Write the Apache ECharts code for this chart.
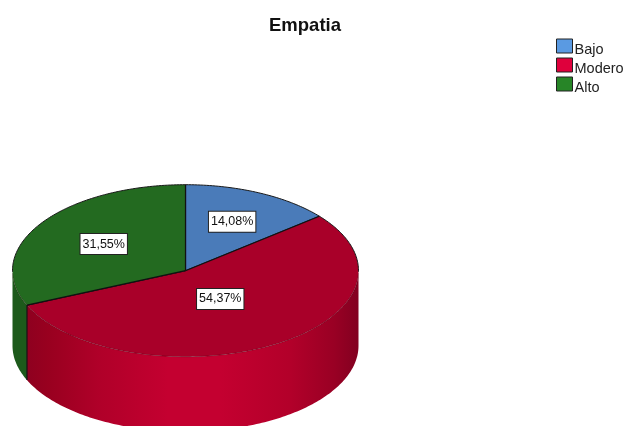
<!DOCTYPE html>
<html>
<head>
<meta charset="utf-8">
<style>html,body{margin:0;padding:0;background:#fff}#c{width:625px;height:426px}</style>
<script src="https://cdn.jsdelivr.net/npm/echarts@6/dist/echarts.min.js"></script>
</head>
<body>
<div id="c"></div>
<script>
const categories = ['Bajo', 'Modero', 'Alto'];
const percentages = [14.08, 54.37, 31.55];
const titleText = 'Empatia';

const topColors = ['#4a7bb9', '#a90029', '#236a20'];
const legendColors = ['#5a9ae2', '#df003c', '#278527'];
const greenWall = [{offset:0,color:'#1d5a1b'},{offset:1,color:'#1d5a1b'}];
const redWall = [
  {offset:0,color:'#870020'},{offset:0.1,color:'#98001f'},{offset:0.25,color:'#b00029'},
  {offset:0.45,color:'#c40030'},{offset:0.6,color:'#c40030'},{offset:0.8,color:'#b3002a'},
  {offset:0.93,color:'#990024'},{offset:1,color:'#820020'}
];
const sideStops = [greenWall, redWall, greenWall];
const labelReach = [0.63, 0.385, 0.565];

const cx = 185.5, cy = 270.7, rx = 173, ry = 86, depth = 75;
const total = percentages.reduce((a, b) => a + b, 0);
const pt = (deg, dy) => {
  const r = deg * Math.PI / 180;
  return [cx + rx * Math.sin(r), cy - ry * Math.cos(r) + (dy || 0)];
};
const arc = (a0, a1, dy) => {
  const out = [];
  const n = Math.max(2, Math.ceil(Math.abs(a1 - a0)));
  for (let i = 0; i <= n; i++) out.push(pt(a0 + (a1 - a0) * i / n, dy));
  return out;
};

function renderSlice(index) {
  let before = 0;
  for (let i = 0; i < index; i++) before += percentages[i];
  const a0 = before / total * 360;
  const a1 = (before + percentages[index]) / total * 360;
  const mid = (a0 + a1) / 2;
  const children = [];

  // side wall: only the front half of the ellipse shows
  const f0 = Math.max(a0, 90), f1 = Math.min(a1, 270);
  if (f1 > f0) {
    const upper = arc(f0, f1, 0);
    const lower = arc(f1, f0, depth);
    children.push({
      type: 'polygon',
      shape: { points: upper.concat(lower) },
      style: {
        fill: new echarts.graphic.LinearGradient(cx - rx, 0, cx + rx, 0, sideStops[index], true),
        stroke: null
      }
    });
    if (f0 === a0) {
      children.push({ type: 'line', shape: { x1: pt(a0)[0], y1: pt(a0)[1], x2: pt(a0)[0], y2: pt(a0, depth)[1] },
        style: { stroke: '#111', lineWidth: 1.2 } });
    }
  }

  // top face
  const rim = arc(a0, a1, 0);
  children.push({
    type: 'polygon',
    shape: { points: [[cx, cy]].concat(rim) },
    style: { fill: topColors[index], stroke: null }
  });
  // rim outline: dark along the back, faint along the front
  const backA = [], frontA = [];
  rim.forEach(p => { (p[1] <= cy + 1 ? backA : frontA).push(p); });
  if (backA.length > 1) children.push({ type: 'polyline', shape: { points: backA }, style: { stroke: '#1a1a1a', lineWidth: 1, fill: null } });
  if (frontA.length > 1) children.push({ type: 'polyline', shape: { points: frontA }, style: { stroke: 'rgba(40,0,10,0.3)', lineWidth: 1, fill: null } });
  // spoke at the start and end
  [a0, a1].forEach(a => {
    const p = pt(a);
    children.push({ type: 'line', shape: { x1: cx, y1: cy, x2: p[0], y2: p[1] }, style: { stroke: '#111', lineWidth: 1.2 } });
  });

  // value label
  const k = labelReach[index];
  const r = mid * Math.PI / 180;
  children.push({
    type: 'text',
    z2: 100,
    style: {
      x: cx + k * rx * Math.sin(r),
      y: cy - k * ry * Math.cos(r),
      text: percentages[index].toFixed(2).replace('.', ',') + '%',
      fontFamily: 'Liberation Sans, Arial, sans-serif',
      fontSize: 12.5,
      fill: '#111',
      align: 'center',
      verticalAlign: 'middle',
      backgroundColor: '#fff',
      borderColor: '#222',
      borderWidth: 1,
      padding: [4, 2, 3, 2]
    }
  });
  return { type: 'group', children };
}

const chart = echarts.init(document.getElementById('c'), null, { renderer: 'canvas' });
chart.setOption({
  animation: false,
  backgroundColor: '#fff',
  title: {
    text: titleText,
    left: 305,
    top: 16,
    padding: 0,
    textAlign: 'center',
    textStyle: { fontFamily: 'Liberation Sans, Arial, sans-serif', fontSize: 18.5, fontWeight: 'bold', color: '#111' }
  },
  legend: {
    orient: 'vertical',
    left: 556,
    top: 35,
    padding: 0,
    itemWidth: 16,
    itemHeight: 14,
    itemGap: -3,
    icon: 'rect',
    selectedMode: false,
    formatter: name => '{t|' + name + '}',
    textStyle: {
      fontFamily: 'Liberation Sans, Arial, sans-serif', fontSize: 14.5, color: '#222',
      padding: [0, 0, 0, -3],
      rich: {
        t: {
          fontFamily: 'Liberation Sans, Arial, sans-serif', fontSize: 14.5, color: '#222',
          padding: [7, 0, 0, 0], lineHeight: 17
        }
      }
    },
    data: categories.map((name, i) => ({
      name,
      itemStyle: { color: legendColors[i], borderColor: '#222', borderWidth: 1 }
    }))
  },
  series: categories.map((name, i) => ({
    type: 'custom',
    name,
    coordinateSystem: 'none',
    silent: true,
    clip: false,
    itemStyle: { color: legendColors[i] },
    data: [percentages[i]],
    renderItem: () => renderSlice(i)
  }))
});
</script>
</body>
</html>
